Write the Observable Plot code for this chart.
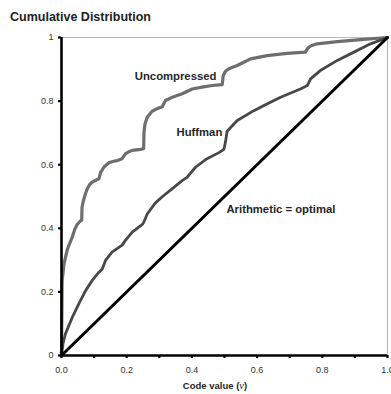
<!DOCTYPE html>
<html>
<head>
<meta charset="utf-8">
<script src="https://cdn.jsdelivr.net/npm/d3@7"></script>
<script src="https://cdn.jsdelivr.net/npm/@observablehq/plot@0.6"></script>
<style>
  body { margin: 0; background: #fff; font-family: "Liberation Sans", Arial, sans-serif; }
  #wrap { position: relative; width: 391px; height: 394px; overflow: hidden; }
  #title { height: 30px; box-sizing: border-box; padding: 11px 0 0 10px; font-size: 12.5px; line-height: 12px; font-weight: bold; color: #222; }
</style>
</head>
<body>
<div id="wrap">
  <div id="title">Cumulative Distribution</div>
  <div id="chart"></div>
</div>
<script>
const titleText = "Cumulative Distribution";
const xLabel = ["Code value (", "v", ")"];

const uncompressedV = [0,0.001,0.002,0.008,0.017,0.022,0.033,0.040,0.048,0.058,0.062,0.063,0.068,0.074,0.079,0.086,0.094,0.105,0.115,0.120,0.130,0.145,0.160,0.171,0.186,0.196,0.205,0.217,0.242,0.252,0.253,0.256,0.263,0.278,0.295,0.309,0.319,0.340,0.370,0.380,0.401,0.431,0.462,0.493,0.496,0.503,0.513,0.539,0.559,0.580,0.631,0.692,0.748,0.755,0.764,0.784,0.846,0.927,1];
const uncompressedF = [0,0.12,0.236,0.29,0.33,0.345,0.372,0.395,0.412,0.423,0.425,0.467,0.49,0.51,0.524,0.537,0.545,0.551,0.556,0.576,0.592,0.606,0.611,0.613,0.619,0.634,0.640,0.645,0.648,0.650,0.700,0.728,0.749,0.768,0.777,0.782,0.802,0.812,0.823,0.828,0.838,0.844,0.849,0.852,0.880,0.894,0.902,0.912,0.922,0.933,0.943,0.950,0.954,0.966,0.973,0.980,0.987,0.994,1];

const huffmanV = [0,0.005,0.012,0.033,0.053,0.074,0.094,0.115,0.125,0.135,0.155,0.186,0.196,0.217,0.248,0.252,0.263,0.288,0.310,0.340,0.370,0.385,0.411,0.442,0.483,0.498,0.503,0.508,0.539,0.590,0.621,0.672,0.733,0.754,0.764,0.794,0.846,0.897,0.948,1];
const huffmanF = [0,0.04,0.068,0.12,0.162,0.204,0.236,0.262,0.272,0.299,0.325,0.347,0.362,0.388,0.412,0.418,0.445,0.48,0.50,0.525,0.55,0.56,0.592,0.616,0.638,0.648,0.671,0.705,0.739,0.77,0.786,0.812,0.838,0.849,0.87,0.896,0.928,0.954,0.98,1];

const arithmeticV = [0, 1];
const arithmeticF = [0, 1];

const labels = ["Uncompressed", "Huffman", "Arithmetic = optimal"];
const labelV = [0.35, 0.423, 0.506];
const labelF = [0.877, 0.701, 0.459];

const xTicks = [0,0.1,0.2,0.3,0.4,0.5,0.6,0.7,0.8,0.9,1];
const xTickLabels = ["0.0","","0.2","","0.4","","0.6","","0.8","","1.0"];
const yTicks = [0,0.2,0.4,0.6,0.8,1];
const yTickLabels = ["0","0.2","0.4","0.6","0.8","1"];

const toRows = (vs, fs) => vs.map((v, i) => ({v, f: fs[i]}));
const unc = toRows(uncompressedV, uncompressedF);
const huf = toRows(huffmanV, huffmanF);
const ari = toRows(arithmeticV, arithmeticF);
const lab = labels.map((t, i) => ({t, v: labelV[i], f: labelF[i]}));

document.getElementById("title").textContent = titleText;

const chart = Plot.plot({
  width: 391,
  height: 364,
  marginTop: 7,
  marginBottom: 39,
  marginLeft: 61,
  marginRight: 4,
  style: {fontFamily: "'Liberation Sans', Arial, sans-serif", background: "white", overflow: "visible"},
  x: {domain: [0, 1]},
  y: {domain: [0, 1]},
  marks: [
    Plot.ruleY([1], {stroke: "#bbb", strokeWidth: 1.2}),
    Plot.ruleX([1], {stroke: "#bbb", strokeWidth: 1.2}),
    Plot.line(unc, {x: "v", y: "f", stroke: "#6e6e6e", strokeWidth: 3.2, strokeLinejoin: "round"}),
    Plot.line(huf, {x: "v", y: "f", stroke: "#484848", strokeWidth: 2.8, strokeLinejoin: "round"}),
    Plot.line(ari, {x: "v", y: "f", stroke: "#000", strokeWidth: 3}),
    Plot.text(lab.slice(0, 2), {x: "v", y: "f", text: "t", fontSize: 11.3, fontWeight: "bold", fill: "#262626"}),
    Plot.text(lab.slice(2), {x: "v", y: "f", text: "t", fontSize: 11.3, fontWeight: "bold", fill: "#262626", textAnchor: "start"}),
    Plot.axisY({ticks: yTicks, tickFormat: (d) => yTickLabels[yTicks.indexOf(d)], tickSize: 3, tickPadding: 5, fontSize: 9, label: null, strokeWidth: 2.2, stroke: "#000", color: "#333"}),
    Plot.axisX({ticks: xTicks, tickFormat: (d) => xTickLabels[xTicks.indexOf(d)], tickSize: 3, tickPadding: 8, fontSize: 9, label: null, strokeWidth: 2.2, stroke: "#000", color: "#333"}),
    Plot.ruleX([0], {stroke: "#000", strokeWidth: 2.6}),
    Plot.ruleY([0], {stroke: "#000", strokeWidth: 2.6})
  ]
});
document.getElementById("chart").appendChild(chart);

const svg = d3.select(chart);
const t = svg.append("text")
  .attr("x", 215).attr("y", 359)
  .attr("text-anchor", "middle")
  .attr("font-size", 9.5)
  .attr("font-weight", "bold")
  .attr("fill", "#262626")
  .attr("font-family", "'Liberation Sans', Arial, sans-serif");
t.append("tspan").text(xLabel[0]);
t.append("tspan").attr("font-family", "'Liberation Serif', 'Times New Roman', serif").attr("font-style", "italic").attr("font-weight", "normal").attr("font-size", 10.5).text(xLabel[1]);
t.append("tspan").text(xLabel[2]);
</script>
</body>
</html>
